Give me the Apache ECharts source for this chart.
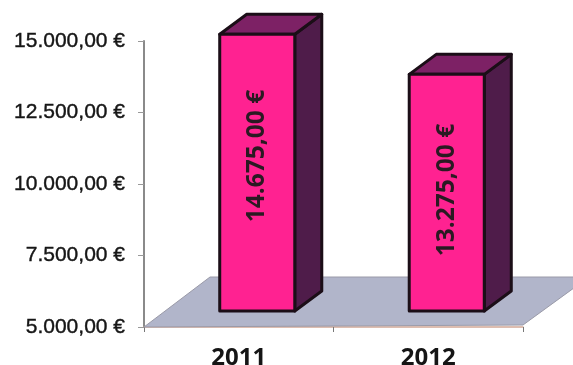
<!DOCTYPE html>
<html><head><meta charset="utf-8">
<style>html,body{margin:0;padding:0;background:#fff}#c{width:573px;height:365px}</style>
<script src="https://cdn.jsdelivr.net/npm/echarts@6/dist/echarts.min.js"></script>
</head><body><div id="c"></div>
<script>
const categories = ['2011', '2012'];
const values = [14675, 13275];
const labelAnchors = [10420, 9230];
const axisMin = 5000, axisMax = 15000, axisStep = 2500;

const euro = v => {
  const s = String(v).replace(/\B(?=(\d{3})+$)/g, '.');
  return s + ',00 €';
};
const OFF = [18.5, -16], DEPTH = [27, -20], BAND = 0.396;
const FLOOR_D = [66, -50];
const EDGE = '#1b0e17';

function renderFloor(params, api) {
  const c = params.coordSys;
  const x0 = c.x, x1 = c.x + c.width, y = c.y + c.height;
  return {
    type: 'polygon', silent: true,
    shape: { points: [[x0, y], [x0 + FLOOR_D[0], y + FLOOR_D[1]], [x1 + FLOOR_D[0], y + FLOOR_D[1]], [x1, y - 2]] },
    style: { fill: '#b1b5ca', stroke: '#9a9aa8', lineWidth: 1 }
  };
}
function renderBar(params, api) {
  const i = api.value(0);
  const v = api.value(1);
  const w = api.size([1, 0])[0] * BAND;
  const base = api.coord([i, axisMin]);
  const top = api.coord([i, v]);
  const anchor = api.coord([i, api.value(2)]);
  const l = base[0] + OFF[0] - w / 2, r = l + w;
  const yb = base[1] + OFF[1], yt = top[1] + OFF[1];
  const dx = DEPTH[0], dy = DEPTH[1];
  const edge = { stroke: EDGE, lineWidth: 3, lineJoin: 'round' };
  return {
    type: 'group',
    children: [
      { type: 'polygon', shape: { points: [[r, yt], [r + dx, yt + dy], [r + dx, yb + dy], [r, yb]] }, style: { fill: '#4f1c4a', ...edge } },
      { type: 'polygon', shape: { points: [[l, yt], [l + dx, yt + dy], [r + dx, yt + dy], [r, yt]] }, style: { fill: '#7d2165', ...edge } },
      { type: 'rect', shape: { x: l, y: yt, width: w, height: yb - yt }, style: { fill: '#ff2291', ...edge } },
      { type: 'text', x: (l + r) / 2, y: anchor[1] + OFF[1], rotation: Math.PI / 2,
        style: { text: euro(v), fill: '#2a1a22', font: 'bold 24.5px "Open Sans"', align: 'center', verticalAlign: 'middle' } }
    ]
  };
}
const chart = echarts.init(document.getElementById('c'), null, { renderer: 'canvas' });
chart.setOption({
  animation: false,
  backgroundColor: '#fff',
  grid: { left: 144, right: 50, top: 41, bottom: 38, outerBoundsMode: 'none' },
  xAxis: {
    type: 'category', data: categories, boundaryGap: true,
    axisLine: { show: true, lineStyle: { color: '#d2a897', width: 1.5 } },
    axisTick: { show: true, length: 5, lineStyle: { color: '#777' } },
    axisLabel: { color: '#151515', fontFamily: 'Open Sans', fontWeight: 'bold', fontSize: 24, margin: 19 },
    splitLine: { show: false }
  },
  yAxis: {
    type: 'value', min: axisMin, max: axisMax, interval: axisStep,
    axisLine: { show: true, lineStyle: { color: '#8a8a8a', width: 2 } },
    axisTick: { show: true, length: 6, lineStyle: { color: '#999' } },
    axisLabel: { formatter: euro, color: '#161616', fontFamily: 'Liberation Sans', fontSize: 21, margin: 19, textBorderColor: '#161616', textBorderWidth: 0.4 },
    splitLine: { show: false }
  },
  series: [
    { type: 'custom', name: 'floor', renderItem: renderFloor, data: [[0, axisMin]], clip: false, silent: true, z: 1 },
    { type: 'custom', name: 'bars', renderItem: renderBar, clip: false, z: 3,
      encode: { x: 0, y: 1 },
      data: categories.map((c, i) => [i, values[i], labelAnchors[i]]) }
  ]
});
</script></body></html>
